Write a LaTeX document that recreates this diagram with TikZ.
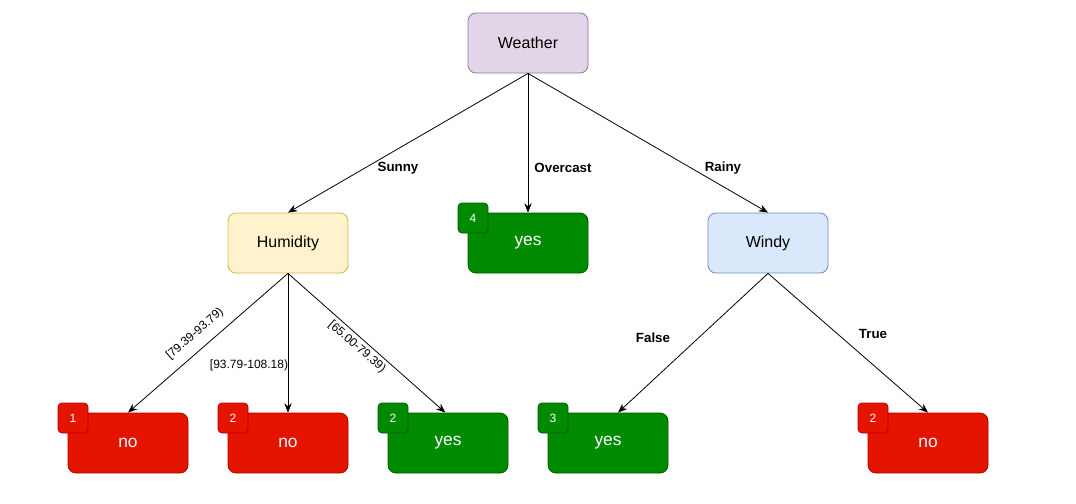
\documentclass[tikz,border=0pt]{standalone}
\usepackage{fontspec}
\setmainfont{Liberation Sans}
\usetikzlibrary{arrows.meta}
\definecolor{wfill}{HTML}{E1D5E7}\definecolor{wdraw}{HTML}{9673A6}
\definecolor{hfill}{HTML}{FFF2CC}\definecolor{hdraw}{HTML}{D6B656}
\definecolor{bfill}{HTML}{DAE8FC}\definecolor{bdraw}{HTML}{6C8EBF}
\definecolor{gfill}{HTML}{008A00}\definecolor{gdraw}{HTML}{005700}
\definecolor{rfill}{HTML}{E51400}\definecolor{rdraw}{HTML}{B20000}
\begin{document}
\begin{tikzpicture}[x=0.75pt,y=-0.75pt,
  box/.style={rectangle,rounded corners=6pt,minimum width=90pt,minimum height=45pt,inner sep=0pt,font=\fontsize{12}{14}\selectfont,line width=0.6pt},
  badge/.style={rectangle,rounded corners=3pt,minimum width=22.5pt,minimum height=22.5pt,inner sep=0pt,font=\fontsize{9}{10}\selectfont,text=white,line width=0.6pt},
  yesleaf/.style={box,fill=gfill,draw=gdraw,text=white,font=\fontsize{13}{15}\selectfont},
  noleaf/.style={box,fill=rfill,draw=rdraw,text=white,font=\fontsize{13}{15}\selectfont},
  gbadge/.style={badge,fill=gfill,draw=gdraw},
  rbadge/.style={badge,fill=rfill,draw=rdraw},
  edge/.style={-{Stealth[length=7pt,width=5.5pt]},line width=0.6pt},
  elab/.style={font=\fontsize{10}{12}\selectfont\bfseries,inner sep=1pt},
  rlab/.style={font=\fontsize{9}{10}\selectfont,inner sep=1pt}]
\useasboundingbox (0,0) rectangle (1076,504);
\node[box,fill=wfill,draw=wdraw] (weather) at (528,43) {Weather};
\node[box,fill=hfill,draw=hdraw] (hum) at (288,243) {Humidity};
\node[box,fill=bfill,draw=bdraw] (windy) at (768,243) {Windy};
\node[yesleaf] (y1) at (528,243) {yes};
\node[gbadge] (b1) at (473,218) {4};
\node[noleaf] (l1) at (128,443) {no};
\node[rbadge] (b2) at (73,418) {1};
\node[noleaf] (l2) at (288,443) {no};
\node[rbadge] (b3) at (233,418) {2};
\node[yesleaf] (l3) at (448,443) {yes};
\node[gbadge] (b4) at (393,418) {2};
\node[yesleaf] (l4) at (608,443) {yes};
\node[gbadge] (b5) at (553,418) {3};
\node[noleaf] (l5) at (928,443) {no};
\node[rbadge] (b6) at (873,418) {2};
\draw[edge] (weather.south) -- (hum.north);
\draw[edge] (weather.south) -- (y1.north);
\draw[edge] (weather.south) -- (windy.north);
\draw[edge] (hum.south) -- (l1.north);
\draw[edge] (hum.south) -- (l2.north);
\draw[edge] (hum.south) -- ([xshift=-2pt]l3.north);
\draw[edge] (windy.south) -- ([xshift=7.5pt]l4.north);
\draw[edge] (windy.south) -- (l5.north);
\node[elab] (s) at (398,168) {Sunny};
\node[elab] (o) at (563,168) {Overcast};
\node[elab] (r) at (723,168) {Rainy};
\node[elab] (f) at (653,338) {False};
\node[elab] (t) at (873,334) {True};
\node[rlab,rotate=41] (h1) at (195,334) {[79.39-93.79)};
\node[rlab] (h2) at (249,365) {[93.79-108.18)};
\node[rlab,rotate=-41] (h3) at (357,347) {[65.00-79.39)};
\end{tikzpicture}
\end{document}
